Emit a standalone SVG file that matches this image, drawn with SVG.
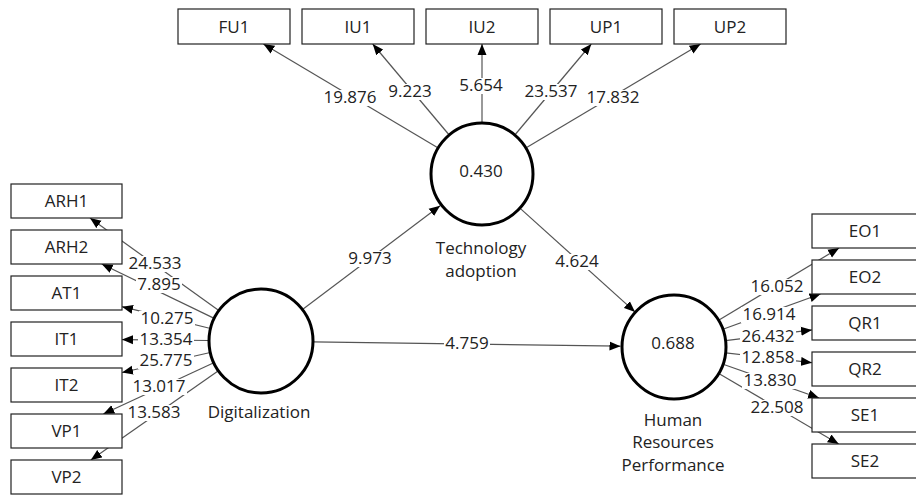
<svg xmlns="http://www.w3.org/2000/svg" width="916" height="495" viewBox="0 0 916 495">
<style>
text{font-family:"Open Sans","Noto Sans","DejaVu Sans",sans-serif;font-size:17px;fill:#222;text-anchor:middle}
.box{fill:#fff;stroke:#222;stroke-width:1.2}
.lv{fill:#fff;stroke:#000;stroke-width:3}
.c{stroke:#555;stroke-width:1.2;fill:none;marker-end:url(#ah)}
.bg{fill:#fff;stroke:none}
</style>
<defs>
<marker id="ah" markerUnits="userSpaceOnUse" markerWidth="12" markerHeight="10" refX="11" refY="5" orient="auto">
<path d="M0,0.5 L11,5 L0,9.5 Z" fill="#000"/>
</marker>
</defs>
<rect width="916" height="495" fill="#fff"/>
<g id="connectors">
<line class="c" x1="218.8" y1="310.6" x2="90.0" y2="218.0"/>
<line class="c" x1="214.2" y1="318.4" x2="101.7" y2="264.0"/>
<line class="c" x1="210.5" y1="328.5" x2="122" y2="306.7"/>
<line class="c" x1="209" y1="340.5" x2="122" y2="339.6"/>
<line class="c" x1="210.3" y1="352.5" x2="122" y2="372.5"/>
<line class="c" x1="213.8" y1="362.8" x2="103.3" y2="414"/>
<line class="c" x1="218.4" y1="370.8" x2="90.8" y2="460"/>
<line class="c" x1="438.2" y1="147.9" x2="263.4" y2="44"/>
<line class="c" x1="449.2" y1="135.0" x2="372.7" y2="44"/>
<line class="c" x1="482" y1="123" x2="482" y2="44"/>
<line class="c" x1="514.8" y1="135.0" x2="591.3" y2="44"/>
<line class="c" x1="525.8" y1="147.9" x2="700.6" y2="44"/>
<line class="c" x1="718.6" y1="320.3" x2="839.1" y2="248.0"/>
<line class="c" x1="722.9" y1="329.3" x2="820.5" y2="294.0"/>
<line class="c" x1="725.6" y1="340.6" x2="812" y2="329.9"/>
<line class="c" x1="725.7" y1="352.9" x2="812" y2="362.7"/>
<line class="c" x1="723.1" y1="364.2" x2="819.1" y2="398"/>
<line class="c" x1="718.8" y1="373.4" x2="838.7" y2="444"/>
<line class="c" x1="302.5" y1="309.6" x2="440.1" y2="205.7"/>
<line class="c" x1="519.9" y1="208.1" x2="635" y2="311.9"/>
<line class="c" x1="313" y1="341.8" x2="620.5" y2="346.2"/>
<g class="labels">
<rect class="bg" x="127" y="256" width="56" height="16"/><text x="155" y="269">24.533</text>
<rect class="bg" x="136" y="277" width="46" height="16"/><text x="159" y="290">7.895</text>
<rect class="bg" x="139" y="311" width="56" height="16"/><text x="167" y="324">10.275</text>
<rect class="bg" x="138" y="332" width="56" height="16"/><text x="166" y="345">13.354</text>
<rect class="bg" x="138" y="353" width="56" height="16"/><text x="166" y="366">25.775</text>
<rect class="bg" x="131" y="379" width="56" height="16"/><text x="159" y="392">13.017</text>
<rect class="bg" x="126" y="405" width="56" height="16"/><text x="154" y="418">13.583</text>
<rect class="bg" x="322" y="90" width="56" height="16"/><text x="350" y="103">19.876</text>
<rect class="bg" x="387" y="84" width="46" height="16"/><text x="410" y="97">9.223</text>
<rect class="bg" x="458" y="78" width="46" height="16"/><text x="481" y="91">5.654</text>
<rect class="bg" x="523" y="84" width="56" height="16"/><text x="551" y="97">23.537</text>
<rect class="bg" x="585" y="90" width="56" height="16"/><text x="613" y="103">17.832</text>
<rect class="bg" x="749" y="279" width="56" height="16"/><text x="777" y="292">16.052</text>
<rect class="bg" x="741" y="307" width="56" height="16"/><text x="769" y="320">16.914</text>
<rect class="bg" x="740" y="329" width="56" height="16"/><text x="768" y="342">26.432</text>
<rect class="bg" x="740" y="350" width="56" height="16"/><text x="768" y="363">12.858</text>
<rect class="bg" x="742" y="373" width="56" height="16"/><text x="770" y="386">13.830</text>
<rect class="bg" x="749" y="400" width="56" height="16"/><text x="777" y="413">22.508</text>
<rect class="bg" x="347" y="251" width="46" height="16"/><text x="370" y="264">9.973</text>
<rect class="bg" x="554" y="254" width="46" height="16"/><text x="577" y="267">4.624</text>
<rect class="bg" x="444" y="336" width="46" height="16"/><text x="467" y="349">4.759</text>
</g>
</g>
<g id="FU1"><rect class="box" x="178" y="9" width="112" height="35"/><text x="234" y="33">FU1</text></g>
<g id="IU1"><rect class="box" x="302" y="9" width="112" height="35"/><text x="358" y="33">IU1</text></g>
<g id="IU2"><rect class="box" x="426" y="9" width="112" height="35"/><text x="482" y="33">IU2</text></g>
<g id="UP1"><rect class="box" x="550" y="9" width="112" height="35"/><text x="606" y="33">UP1</text></g>
<g id="UP2"><rect class="box" x="674" y="9" width="112" height="35"/><text x="730" y="33">UP2</text></g>
<g id="ARH1"><rect class="box" x="11" y="184" width="111" height="34"/><text x="66.5" y="207">ARH1</text></g>
<g id="ARH2"><rect class="box" x="11" y="230" width="111" height="34"/><text x="66.5" y="253">ARH2</text></g>
<g id="AT1"><rect class="box" x="11" y="276" width="111" height="34"/><text x="66.5" y="299">AT1</text></g>
<g id="IT1"><rect class="box" x="11" y="322" width="111" height="34"/><text x="66.5" y="345">IT1</text></g>
<g id="IT2"><rect class="box" x="11" y="368" width="111" height="34"/><text x="66.5" y="391">IT2</text></g>
<g id="VP1"><rect class="box" x="11" y="414" width="111" height="34"/><text x="66.5" y="437">VP1</text></g>
<g id="VP2"><rect class="box" x="11" y="460" width="111" height="34"/><text x="66.5" y="483">VP2</text></g>
<g id="EO1"><rect class="box" x="812" y="214" width="111" height="34"/><text x="865" y="237">EO1</text></g>
<g id="EO2"><rect class="box" x="812" y="260" width="111" height="34"/><text x="865" y="283">EO2</text></g>
<g id="QR1"><rect class="box" x="812" y="306" width="111" height="34"/><text x="865" y="329">QR1</text></g>
<g id="QR2"><rect class="box" x="812" y="352" width="111" height="34"/><text x="865" y="375">QR2</text></g>
<g id="SE1"><rect class="box" x="812" y="398" width="111" height="34"/><text x="865" y="421">SE1</text></g>
<g id="SE2"><rect class="box" x="812" y="444" width="111" height="34"/><text x="865" y="467">SE2</text></g>
<g id="TechnologyAdoption"><circle class="lv" cx="482" cy="174" r="51"/><text x="481" y="177">0.430</text><text x="481" y="254">Technology</text><text x="481" y="277">adoption</text></g>
<g id="Digitalization"><circle class="lv" cx="261" cy="341" r="52"/><text x="259" y="418">Digitalization</text></g>
<g id="HumanResourcesPerformance"><circle class="lv" cx="674" cy="347" r="52"/><text x="673" y="349">0.688</text><text x="673" y="426">Human</text><text x="673" y="448">Resources</text><text x="673" y="471">Performance</text></g>
</svg>
